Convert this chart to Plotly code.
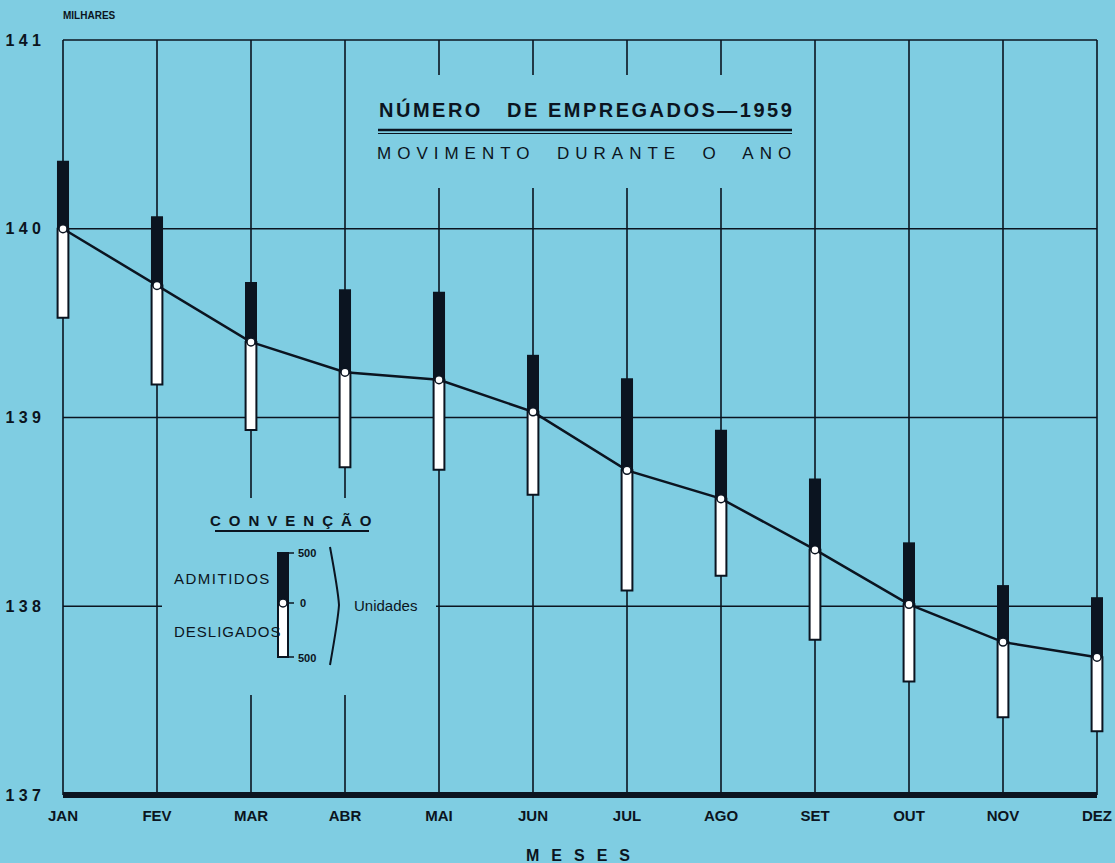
import plotly.graph_objects as go

# dados (milhares de empregados; admitidos/desligados em unidades)
meses = ["JAN", "FEV", "MAR", "ABR", "MAI", "JUN", "JUL", "AGO", "SET", "OUT", "NOV", "DEZ"]
empregados = [140.00, 139.70, 139.40, 139.24, 139.20, 139.03, 138.72, 138.57, 138.30, 138.01, 137.81, 137.73]
admitidos = [680, 690, 600, 830, 880, 570, 920, 690, 710, 620, 570, 600]
desligados = [890, 990, 880, 950, 900, 830, 1200, 770, 900, 770, 750, 740]
y_ticks = [137, 138, 139, 140, 141]

ESCALA = 0.265 / 500  # 500 unidades -> 0.265 milhares no eixo
BG = "#7fcde2"
INK = "#0b1420"
FONT = "Liberation Sans"

x = list(range(len(meses)))
pad = 7 / 94
ypad = 4 / 188.75

# pixel -> paper (area do grafico: x 56..1104, y 36..799)
def px(v):
    return (v - 56) / 1048

def py(v):
    return (799 - v) / 763

# pixel -> dados (JAN em x=63, DEZ em 1097; 141 em y=40, 137 em 795)
def dx(v):
    return (v - 63) / 94

def dy(v):
    return 137 + (795 - v) / 188.75

fig = go.Figure()

fig.add_trace(go.Bar(
    x=x, y=[a * ESCALA for a in admitidos], base=empregados,
    width=0.128, marker=dict(color=INK, line=dict(width=0)),
    hoverinfo="skip"))
fig.add_trace(go.Bar(
    x=x, y=[d * ESCALA for d in desligados],
    base=[e - d * ESCALA for e, d in zip(empregados, desligados)],
    width=0.115, marker=dict(color="white", line=dict(color=INK, width=2)),
    hoverinfo="skip"))
fig.add_trace(go.Scatter(
    x=x, y=empregados, mode="lines+markers",
    line=dict(color=INK, width=2.5),
    marker=dict(symbol="circle", size=8, color="white", line=dict(color=INK, width=1.5))))

shapes = []
# grade
for i in x:
    shapes.append(dict(type="line", xref="x", yref="y", x0=i, x1=i, y0=y_ticks[0], y1=y_ticks[-1],
                       line=dict(color=INK, width=1.6), layer="below"))
for t in y_ticks[1:]:
    shapes.append(dict(type="line", xref="x", yref="y", x0=x[0], x1=x[-1], y0=t, y1=t,
                       line=dict(color=INK, width=1.6), layer="below"))
# areas do titulo e da convencao interrompem a grade
shapes.append(dict(type="rect", xref="x", yref="y", x0=dx(370), x1=dx(800), y0=dy(188), y1=dy(75),
                   fillcolor=BG, line=dict(width=0), layer="below"))
shapes.append(dict(type="rect", xref="x", yref="y", x0=dx(162), x1=dx(436), y0=dy(695), y1=dy(498),
                   fillcolor=BG, line=dict(width=0), layer="below"))
# linha de base grossa
shapes.append(dict(type="line", xref="x", yref="y", x0=x[0], x1=x[-1], y0=y_ticks[0], y1=y_ticks[0],
                   line=dict(color=INK, width=6), layer="above"))
# sublinhados
shapes.append(dict(type="line", xref="paper", yref="paper", x0=px(378), x1=px(792), y0=py(130), y1=py(130),
                   line=dict(color=INK, width=2.5)))
shapes.append(dict(type="line", xref="paper", yref="paper", x0=px(378), x1=px(792), y0=py(133.5), y1=py(133.5),
                   line=dict(color=INK, width=1)))
shapes.append(dict(type="line", xref="paper", yref="paper", x0=px(215), x1=px(369), y0=py(531), y1=py(531),
                   line=dict(color=INK, width=2)))
# simbolo da convencao
shapes.append(dict(type="rect", xref="paper", yref="paper", x0=px(277), x1=px(289), y0=py(603), y1=py(552),
                   fillcolor=INK, line=dict(width=0)))
shapes.append(dict(type="rect", xref="paper", yref="paper", x0=px(278), x1=px(288), y0=py(657), y1=py(603),
                   fillcolor="white", line=dict(color=INK, width=2)))
shapes.append(dict(type="circle", xref="paper", yref="paper", x0=px(279), x1=px(287), y0=py(607), y1=py(599),
                   fillcolor="white", line=dict(color=INK, width=1.5)))
for yy in (553, 603, 657):
    shapes.append(dict(type="line", xref="paper", yref="paper", x0=px(289), x1=px(294), y0=py(yy), y1=py(yy),
                       line=dict(color=INK, width=1.5)))
shapes.append(dict(type="path", xref="paper", yref="paper",
                   path=f"M {px(330)} {py(547)} Q {px(338)} {py(590)} {px(339)} {py(605)} "
                        f"Q {px(338)} {py(620)} {px(330)} {py(665)}",
                   line=dict(color=INK, width=2)))

annotations = []
def txt(t, xp, yp, size, bold=False, xanchor="center", sp=0):
    if sp:
        t = f'<span style="letter-spacing:{sp}px">{t}</span>'
    annotations.append(dict(text=f"<b>{t}</b>" if bold else t, x=px(xp), y=py(yp), xref="paper", yref="paper",
                            showarrow=False, xanchor=xanchor, yanchor="middle",
                            font=dict(family=FONT, size=size, color=INK)))

txt("MILHARES", 89, 16, 10, True)
txt("NÚMERO&nbsp;&nbsp; DE EMPREGADOS—1959", 586, 110, 20, True, sp=2.5)
txt("MOVIMENTO&nbsp; DURANTE&nbsp; O&nbsp; ANO", 587, 153, 17, sp=6)
txt("CONVENÇÃO", 295, 520, 15, True, sp=8)
txt("ADMITIDOS", 172, 578, 15, xanchor="left", sp=1.5)
txt("DESLIGADOS", 172, 631, 15, xanchor="left", sp=1)
txt("<b>500</b>", 296, 553, 11, xanchor="left")
txt("<b>0</b>", 298, 603, 11, xanchor="left")
txt("<b>500</b>", 296, 658, 11, xanchor="left")
txt("Unidades", 352, 605, 15, xanchor="left")
txt("MESES", 584, 855, 16, True, sp=12)

fig.update_layout(
    width=1115, height=863,
    margin=dict(l=56, r=11, t=36, b=64, autoexpand=False),
    paper_bgcolor=BG, plot_bgcolor=BG,
    barmode="overlay", showlegend=False,
    shapes=shapes, annotations=annotations,
    xaxis=dict(range=[x[0] - pad, x[-1] + pad], tickvals=x, ticktext=[f"<b>{m}</b>" for m in meses],
               showgrid=False, zeroline=False, showline=False, ticks="", automargin=False,
               ticklabelstandoff=6, tickfont=dict(family=FONT, size=15, color=INK)),
    yaxis=dict(range=[y_ticks[0] - ypad, y_ticks[-1] + ypad], tickvals=y_ticks,
               ticktext=["<b>" + " ".join(str(t)) + "</b>" for t in y_ticks],
               showgrid=False, zeroline=False, showline=False, ticks="", automargin=False,
               ticklabelstandoff=14, tickfont=dict(family=FONT, size=16, color=INK)),
)

fig.write_html("out.html", config={"displayModeBar": False},
               post_script="document.body.style.margin='0';")
